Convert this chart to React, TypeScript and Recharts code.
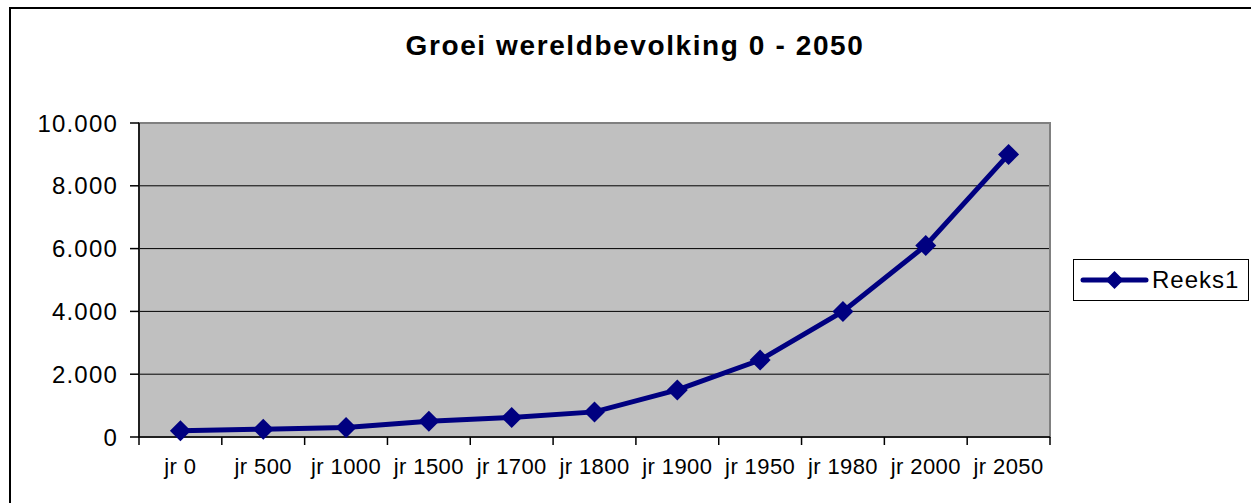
import { LineChart, Line, XAxis, YAxis, CartesianGrid, Legend, ReferenceArea } from 'recharts';

const categories = ['jr 0', 'jr 500', 'jr 1000', 'jr 1500', 'jr 1700', 'jr 1800', 'jr 1900', 'jr 1950', 'jr 1980', 'jr 2000', 'jr 2050'];
const population = [200, 250, 300, 500, 620, 800, 1500, 2450, 4000, 6100, 9000];
const yTicks = [0, 2000, 4000, 6000, 8000, 10000];
const gridValues = [2000, 4000, 6000, 8000];
const seriesName = 'Reeks1';
const title = 'Groei wereldbevolking 0 - 2050';

const data = categories.map((name, i) => ({ idx: i, name, value: population[i] }));

// ticks at every category centre (label) and every boundary (tick mark)
const xTicks: number[] = [];
for (let i = 0; i <= categories.length * 2; i++) xTicks.push(i / 2 - 0.5);

const NAVY = '#000080';
const FONT = '"Liberation Sans", Arial, Helvetica, sans-serif';

const fmt = (v: number) => {
    if (v === 0) return '0';
    const s = String(v);
    return s.replace(/\B(?=(\d{3})+(?!\d))/g, '.');
};

const Diamond = (props: any) => {
    const { cx, cy } = props;
    if (cx == null || cy == null) return null;
    const r = 10.5;
    return <polygon points={`${cx},${cy - r} ${cx + r},${cy} ${cx},${cy + r} ${cx - r},${cy}`} fill={NAVY} stroke="none" />;
};

const XTick = (props: any) => {
    const { x, y, payload } = props;
    const v = payload.value as number;
    const isCentre = Math.abs(v - Math.round(v)) < 0.1;
    if (!isCentre) {
        return <line x1={x} y1={y} x2={x} y2={y + 8} stroke="#000" strokeWidth={1.5} />;
    }
    return (
        <text x={x} y={y + 37} textAnchor="middle" fill="#000" fontSize={22} fontFamily={FONT} letterSpacing={0.4}>
            {categories[Math.round(v)]}
        </text>
    );
};

const LegendBox = (props: any) => {
    const item = (props.payload && props.payload[0]) || { value: seriesName, color: NAVY };
    return (
        <div style={{ boxSizing: 'border-box', width: 176, height: 42, border: '1.5px solid #000', background: '#fff', display: 'flex', alignItems: 'center' }}>
            <svg width={72} height={40} style={{ marginLeft: 6 }}>
                <line x1={3} y1={20} x2={66} y2={20} stroke={item.color} strokeWidth={5} strokeLinecap="round" />
                <polygon points="34.5,11 43.5,20 34.5,29 25.5,20" fill={item.color} />
            </svg>
            <span style={{ fontFamily: FONT, fontSize: 24, color: '#000', letterSpacing: 1 }}>{item.value}</span>
        </div>
    );
};

export default function App() {
    return (
        <div style={{ position: 'absolute', left: 0, top: 0, width: 1251, height: 503, background: '#fff', overflow: 'hidden' }}>
            <div style={{ position: 'absolute', left: 9, top: 7, right: -10, bottom: -10, borderLeft: '2px solid #000', borderTop: '2px solid #000' }} />
            <div style={{ position: 'absolute', left: 0, top: 32, width: 1270, textAlign: 'center', fontFamily: FONT, fontWeight: 'bold', fontSize: 28, lineHeight: '28px', letterSpacing: 1.6, color: '#000' }}>
                {title}
            </div>
            <LineChart width={1251} height={503} data={data} margin={{ top: 123, right: 201, bottom: 26, left: 39 }}>
                <CartesianGrid horizontal vertical={false} fill="#C0C0C0" stroke="#000" strokeWidth={1} horizontalValues={gridValues} />
                <ReferenceArea x1={-0.5} x2={10.5} y1={0} y2={10000} fill="none" stroke="#808080" strokeWidth={2} ifOverflow="visible" />
                <XAxis
                    type="number"
                    dataKey="idx"
                    domain={[-0.5, 10.5]}
                    ticks={xTicks}
                    interval={0}
                    tick={<XTick />}
                    tickLine={false}
                    tickSize={0}
                    tickMargin={0}
                    height={40}
                    axisLine={{ stroke: '#000', strokeWidth: 1.5 }}
                    allowDecimals
                />
                <YAxis
                    domain={[0, 10000]}
                    ticks={yTicks}
                    interval={0}
                    width={100}
                    tickFormatter={fmt}
                    tickSize={9}
                    tickMargin={12}
                    tickLine={{ stroke: '#000', strokeWidth: 1.5 }}
                    axisLine={{ stroke: '#000', strokeWidth: 1.5 }}
                    tick={{ fill: '#000', fontSize: 24, fontFamily: FONT, letterSpacing: 1.2 }}
                />
                <Legend
                    layout="horizontal"
                    align="center"
                    verticalAlign="middle"
                    content={<LegendBox />}
                    wrapperStyle={{ position: 'absolute', left: 1073, top: 259, width: 176, height: 42 }}
                />
                <Line
                    type="linear"
                    dataKey="value"
                    name={seriesName}
                    stroke={NAVY}
                    strokeWidth={5}
                    dot={<Diamond />}
                    activeDot={false}
                    isAnimationActive={false}
                />
            </LineChart>
        </div>
    );
}
